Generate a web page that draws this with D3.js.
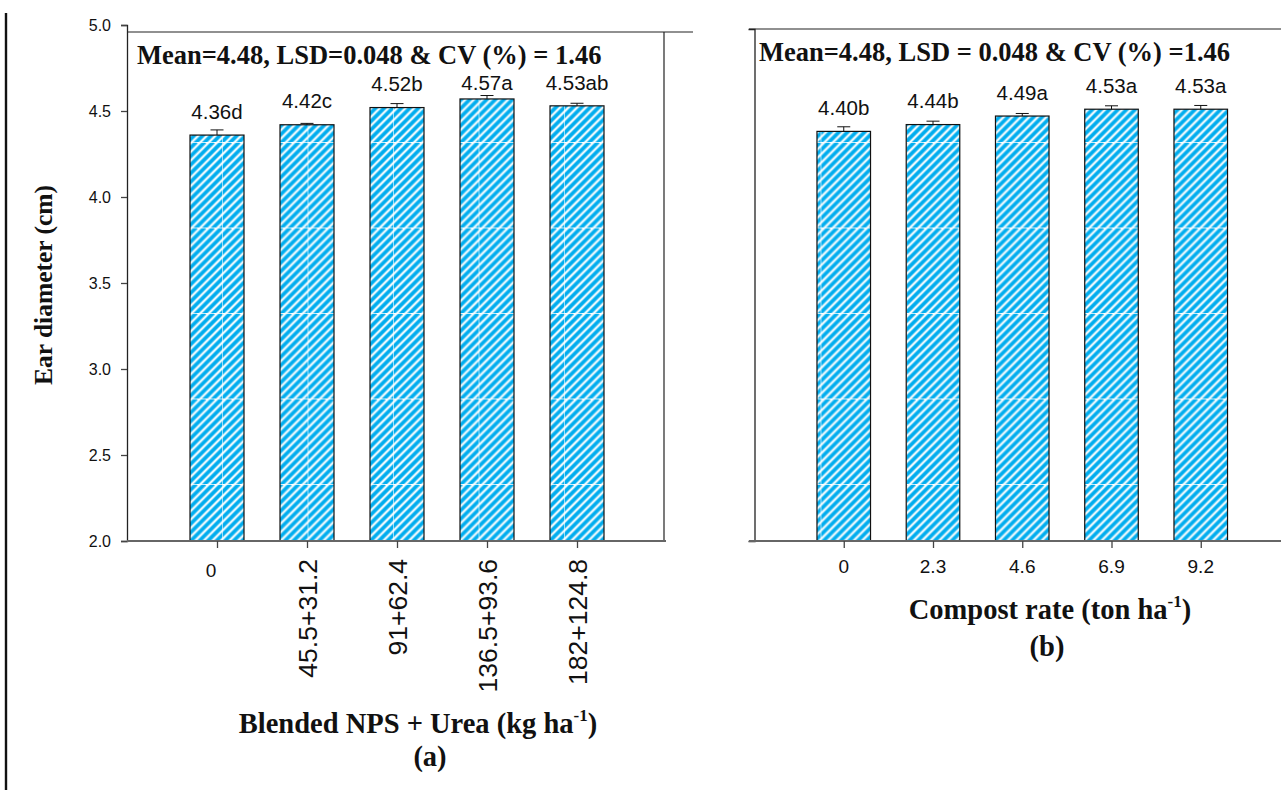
<!DOCTYPE html>
<html>
<head>
<meta charset="utf-8">
<script src="https://cdn.jsdelivr.net/npm/d3@7"></script>
<style>
  html, body { margin: 0; padding: 0; background: #fff; }
  svg { display: block; }
</style>
</head>
<body>
<svg id="chart" width="1281" height="790"></svg>
<script>
// ---- data -------------------------------------------------------------
const npsLabels  = ["0", "45.5+31.2", "91+62.4", "136.5+93.6", "182+124.8"];
const npsMeans   = [4.36, 4.42, 4.52, 4.57, 4.53];
const npsErr     = [0.030, 0.008, 0.023, 0.020, 0.015];
const npsLetters = ["d", "c", "b", "a", "ab"];

const compLabels  = ["0", "2.3", "4.6", "6.9", "9.2"];
const compMeans   = [4.40, 4.44, 4.49, 4.53, 4.53];
const compErr     = [0.027, 0.020, 0.015, 0.020, 0.022];
const compLetters = ["b", "b", "a", "a", "a"];

const yTickValues = [2.0, 2.5, 3.0, 3.5, 4.0, 4.5, 5.0];
const yDomain = [2.0, 5.0];

const statsA = "Mean=4.48, LSD=0.048 & CV (%) = 1.46";
const statsB = "Mean=4.48, LSD = 0.048 & CV (%) =1.46";

// ---- setup ------------------------------------------------------------
const svg = d3.select("#chart");
const SANS = "'Liberation Sans', Arial, sans-serif";
const SERIF = "'Liberation Serif', 'Times New Roman', serif";
const CYAN = "#00adef";
const LABEL_LIFT = 0.095;   // mean-letter labels sit this far (in data units) above the bar

// hatched fill: soft diagonal stripes with faint tile seams
const defs = svg.append("defs");
const T = 85.5, nStripes = 10, p = T / nStripes;
const pat = defs.append("pattern")
  .attr("id", "hatch")
  .attr("patternUnits", "userSpaceOnUse")
  .attr("x", 51).attr("y", 56.5)
  .attr("width", T).attr("height", T);
pat.append("rect").attr("width", T).attr("height", T).attr("fill", "#ffffff");
const stripes = d3.range(-2 * nStripes, 2 * nStripes + 1)
  .map(k => `M${k * p - T},${T * 2}L${k * p + T},0`).join("");
pat.append("path").attr("d", stripes).attr("stroke", "#7dd4f5").attr("stroke-width", 4.6).attr("fill", "none");
pat.append("path").attr("d", stripes).attr("stroke", CYAN).attr("stroke-width", 3.0).attr("fill", "none");
pat.append("line").attr("x1", 0).attr("y1", 0.5).attr("x2", T).attr("y2", 0.5)
  .attr("stroke", "#ffffff").attr("stroke-opacity", 0.75).attr("stroke-width", 1);
pat.append("line").attr("x1", 0.5).attr("y1", 0).attr("x2", 0.5).attr("y2", T)
  .attr("stroke", "#ffffff").attr("stroke-opacity", 0.6).attr("stroke-width", 1);

// page rule on the left
svg.append("line").attr("x1", 6).attr("y1", 13).attr("x2", 6).attr("y2", 790)
  .attr("stroke", "#111").attr("stroke-width", 2.4);

function drawPanel(cfg) {
  const g = svg.append("g");
  const x = d3.scaleLinear().domain([0, 6]).range(cfg.xRange);
  const y = d3.scaleLinear().domain(yDomain).range(cfg.yRange);
  const bw = x(0.6) - x(0);
  const data = cfg.labels.map((l, i) => ({ i: i + 1, label: l, v: cfg.means[i], e: cfg.err[i], letter: cfg.letters[i] }));

  // frame: top rule and right rule
  g.append("line").attr("x1", cfg.topX[0]).attr("x2", cfg.topX[1])
    .attr("y1", cfg.topY).attr("y2", cfg.topY).attr("stroke", "#222").attr("stroke-width", 1.2);
  if (cfg.rightX) {
    g.append("line").attr("x1", cfg.rightX).attr("x2", cfg.rightX)
      .attr("y1", cfg.topY).attr("y2", y(yDomain[0])).attr("stroke", "#222").attr("stroke-width", 1.2);
  }

  // bars
  g.selectAll("rect.bar").data(data).join("rect")
    .attr("class", "bar")
    .attr("x", d => x(d.i) - bw / 2)
    .attr("width", bw)
    .attr("y", d => y(d.v))
    .attr("height", d => y(yDomain[0]) - y(d.v))
    .attr("fill", "url(#hatch)")
    .attr("stroke", "#111").attr("stroke-width", 1.2);

  // error bars
  const eb = g.selectAll("g.err").data(data).join("g").attr("class", "err");
  eb.append("line")
    .attr("x1", d => x(d.i)).attr("x2", d => x(d.i))
    .attr("y1", d => y(d.v)).attr("y2", d => y(d.v + d.e))
    .attr("stroke", "#111").attr("stroke-width", 1);
  eb.append("line")
    .attr("x1", d => x(d.i) - 6.5).attr("x2", d => x(d.i) + 6.5)
    .attr("y1", d => y(d.v + d.e)).attr("y2", d => y(d.v + d.e))
    .attr("stroke", "#111").attr("stroke-width", 1);

  // stats line
  const stats = g.append("text").attr("x", cfg.stats[0]).attr("y", cfg.stats[1])
    .attr("font-family", SERIF).attr("font-weight", "bold").attr("font-size", 26.5)
    .attr("fill", "#111").text(cfg.statsText);
  const sb = stats.node().getBBox();
  const statsBottom = sb.y + sb.height;

  // value + letter labels, kept clear of the stats line
  g.selectAll("text.val").data(data).join("text")
    .attr("class", "val")
    .attr("x", d => x(d.i))
    .attr("y", d => y(d.v + LABEL_LIFT))
    .attr("text-anchor", "middle")
    .attr("font-family", SANS).attr("font-size", 20.5)
    .attr("fill", "#111")
    .text(d => d.v.toFixed(2) + d.letter)
    .each(function () {
      const b = this.getBBox();
      if (b.y < statsBottom + 0.5) {
        d3.select(this).attr("y", +d3.select(this).attr("y") + (statsBottom + 0.5 - b.y));
      }
    });

  // y axis
  const yAxis = g.append("g").attr("transform", `translate(${x(0)},0)`)
    .call(d3.axisLeft(y).tickValues(cfg.showYTicks ? yTickValues : []).tickSizeOuter(0).tickSize(6).tickFormat(d3.format(".1f")));
  yAxis.select(".domain").attr("stroke", "#222").attr("stroke-width", 1.3);
  yAxis.selectAll(".tick line").attr("stroke", "#444").attr("stroke-width", 1.3);
  yAxis.selectAll(".tick text").attr("font-family", SANS).attr("font-size", 16).attr("fill", "#111").attr("x", -16);

  // x axis
  const xAxis = g.append("g").attr("transform", `translate(0,${y(yDomain[0])})`)
    .call(d3.axisBottom(x).tickValues(data.map(d => d.i)).tickSize(7).tickSizeOuter(0).tickFormat(""));
  xAxis.select(".domain").attr("d", `M${cfg.xAxisSpan[0]},0H${cfg.xAxisSpan[1]}`)
    .attr("stroke", "#666").attr("stroke-width", 2);
  xAxis.selectAll(".tick line").attr("stroke", "#444").attr("stroke-width", 1.3);

  // category labels (long ones turned upright)
  data.forEach(d => {
    const t = g.append("text").attr("font-family", SANS).attr("fill", "#111").text(d.label);
    if (cfg.rotate && d.label.length > 2) {
      t.attr("text-anchor", "end").attr("font-size", cfg.rotFont)
        .attr("transform", `translate(${x(d.i) + 9.5},${cfg.rotTop}) rotate(-90)`);
    } else {
      t.attr("text-anchor", "middle").attr("font-size", cfg.tickFont)
        .attr("x", x(d.i) + cfg.shortShift).attr("y", cfg.tickBase);
    }
  });

  // axis title with superscript, and panel letter
  const tt = g.append("text").attr("x", cfg.titleX).attr("y", cfg.titleY)
    .attr("text-anchor", "middle")
    .attr("font-family", SERIF).attr("font-weight", "bold").attr("font-size", 28.5).attr("fill", "#111");
  tt.append("tspan").text(cfg.title[0]);
  tt.append("tspan").attr("font-size", 17).attr("dy", -12).text(cfg.title[1]);
  tt.append("tspan").attr("dy", 12).text(cfg.title[2]);
  g.append("text").attr("x", cfg.letterX).attr("y", cfg.letterY)
    .attr("text-anchor", "middle")
    .attr("font-family", SERIF).attr("font-weight", "bold").attr("font-size", 28.5).attr("fill", "#111")
    .text(cfg.letter);
}

drawPanel({
  labels: npsLabels, means: npsMeans, err: npsErr, letters: npsLetters,
  xRange: [127, 667], yRange: [541, 25],
  topX: [127, 693], topY: 32, rightX: 664,
  xAxisSpan: [127, 666],
  showYTicks: true, rotate: true, tickFont: 19, rotFont: 26.5, rotTop: 559, tickBase: 577, shortShift: -6,
  stats: [137, 64], statsText: statsA,
  title: ["Blended NPS + Urea (kg ha", "-1", ")"], titleX: 418, titleY: 733,
  letter: "(a)", letterX: 430, letterY: 766
});

drawPanel({
  labels: compLabels, means: compMeans, err: compErr, letters: compLetters,
  xRange: [754.5, 1290], yRange: [541, 29],
  topX: [749, 1281], topY: 29, rightX: null,
  xAxisSpan: [749, 1281],
  showYTicks: false, rotate: false, tickFont: 19, rotFont: 19, rotTop: 0, tickBase: 573, shortShift: 0,
  stats: [759, 61], statsText: statsB,
  title: ["Compost rate (ton ha", "-1", ")"], titleX: 1050, titleY: 619,
  letter: "(b)", letterX: 1047, letterY: 656
});

// shared y title
svg.append("text")
  .attr("transform", "translate(52,285) rotate(-90)")
  .attr("text-anchor", "middle")
  .attr("font-family", SERIF).attr("font-weight", "bold").attr("font-size", 25.5).attr("fill", "#111")
  .text("Ear diameter (cm)");
</script>
</body>
</html>
